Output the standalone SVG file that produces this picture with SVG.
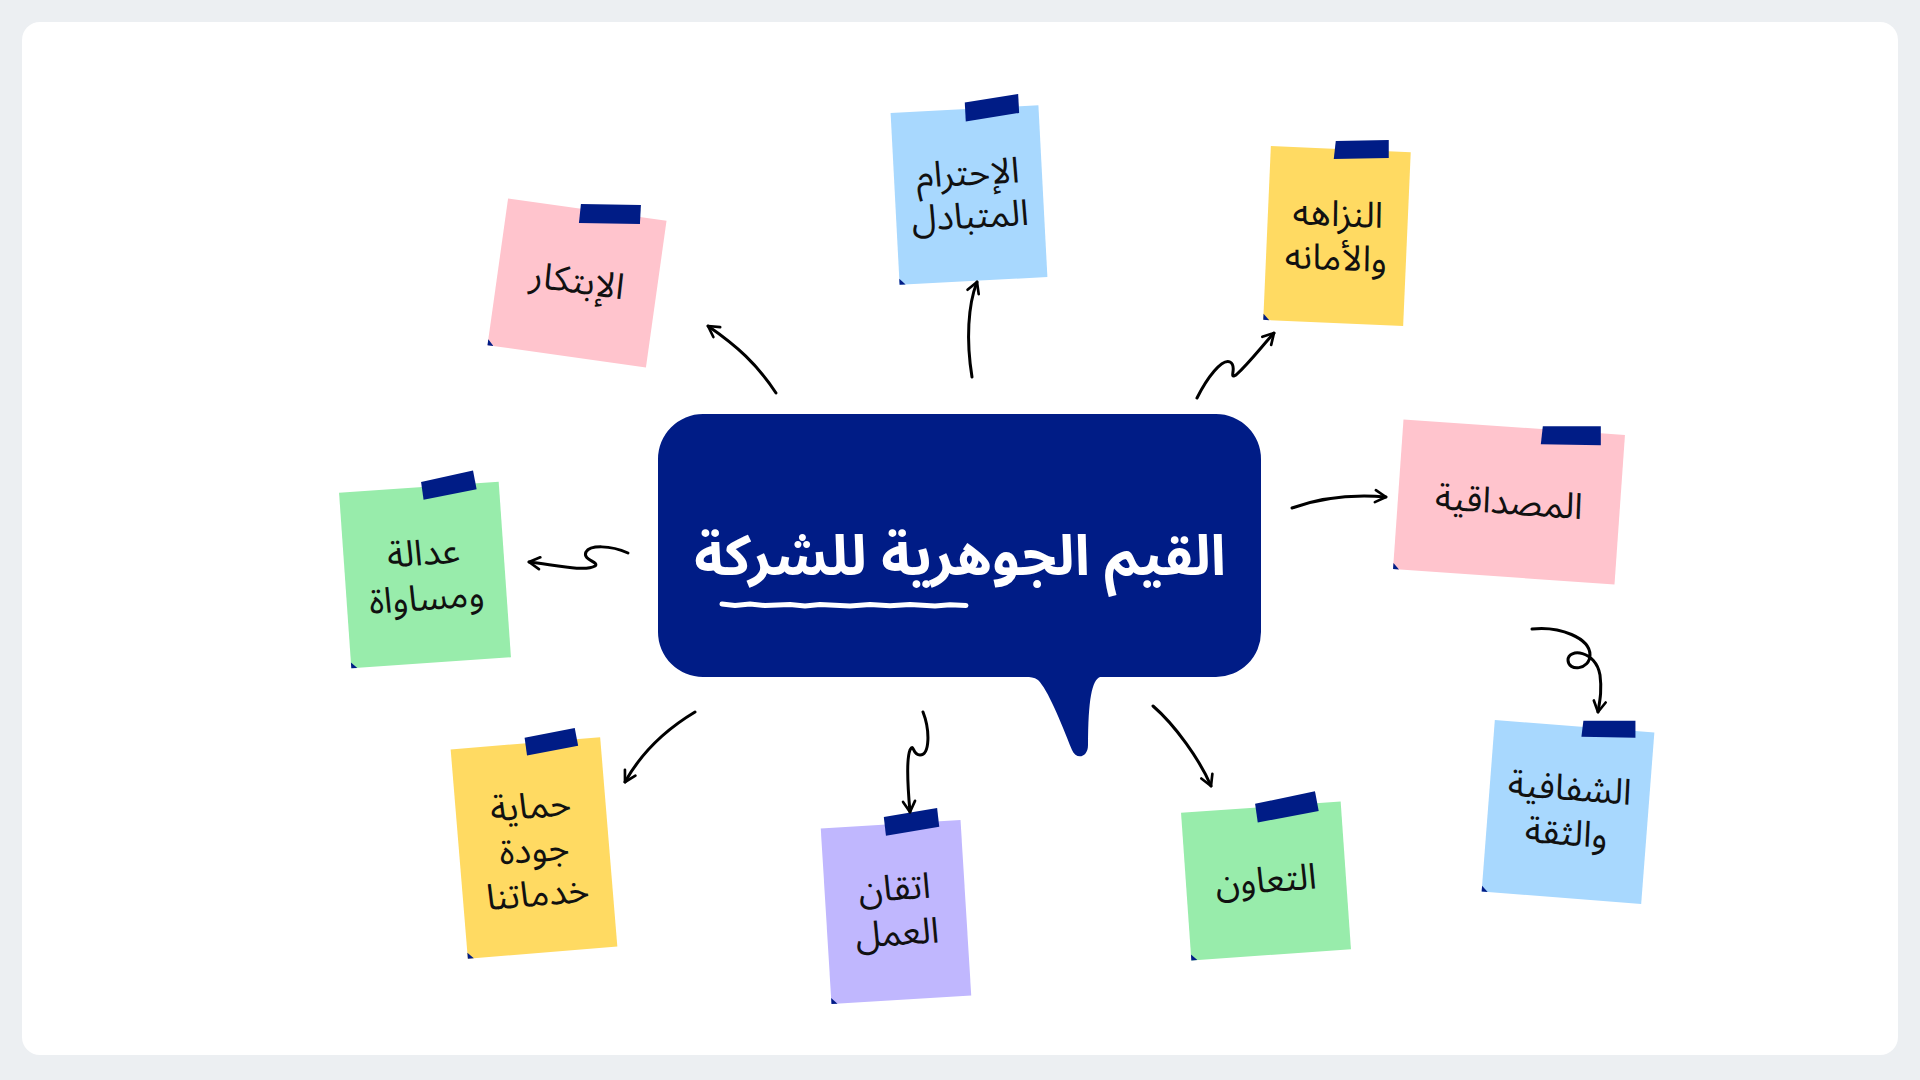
<svg xmlns="http://www.w3.org/2000/svg" width="1920" height="1080" viewBox="0 0 1920 1080">
<defs>
<style>
.note-text{font-family:"Noto Sans Arabic","Noto Sans","DejaVu Sans",sans-serif;font-size:36px;fill:#111;text-anchor:middle}
.title{font-family:"Noto Sans Arabic","Noto Sans","DejaVu Sans",sans-serif;font-size:56px;font-weight:bold;fill:#fff;text-anchor:middle}
.tape{fill:#001C86}
.fold{fill:#001C86}
.conn{fill:none;stroke:#000;stroke-width:3;stroke-linecap:round;stroke-linejoin:round}
.pink{fill:#FFC4CD}.blue{fill:#A8D8FE}.yellow{fill:#FFDA62}.green{fill:#98ECAB}.purple{fill:#C0B7FE}
</style>
<marker id="arrow" viewBox="0 0 12 12" refX="10" refY="6" markerWidth="16" markerHeight="16" markerUnits="userSpaceOnUse" orient="auto">
<path d="M2,1.5 L10,6 L2,10.5" fill="none" stroke="#000" stroke-width="2" stroke-linecap="round" stroke-linejoin="round"/>
</marker>
</defs>
<rect width="1920" height="1080" fill="#ECEFF2"/>
<rect x="22" y="22" width="1876" height="1033" rx="18" fill="#fff"/>

<g id="center">
<path d="M703,414 H1216 A45,45 0 0 1 1261,459 V632 A45,45 0 0 1 1216,677 H1100 C1092,680 1088,700 1088,745 C1088,758 1076,760 1072,750 C1060,720 1048,690 1038,680 C1034,677 1030,677 1026,677 H703 A45,45 0 0 1 658,632 V459 A45,45 0 0 1 703,414 Z" fill="#001C86"/>
<text class="title" x="960" y="575" direction="rtl">القيم الجوهرية للشركة</text>
<path d="M722,604 L735,605.5 L750,604 L765,605.5 L790,604.5 L805,606 L820,604.5 L850,606 L870,604.5 L890,605.8 L910,604.6 L935,606 L950,604.8 L966,605.5" fill="none" stroke="#fff" stroke-width="5" stroke-linecap="round" stroke-linejoin="round"/>
</g>

<g id="note-ibtikar" transform="translate(577,283) rotate(8)">
<rect x="-80" y="-74" width="160" height="148" class="pink"/>
<polygon points="-80,68 -80,74 -74,74" class="fold"/>
<polygon points="-6,-83 54,-82 53,-63 -8,-64" class="tape" transform="rotate(-8 24 -73)"/>
<text class="note-text" x="0" y="10">الإبتكار</text>
</g>

<g id="note-ihtiram" transform="translate(969,195) rotate(-3)">
<rect x="-74" y="-86" width="148" height="172" class="blue"/>
<polygon points="-74,80 -74,86 -68,86" class="fold"/>
<polygon points="1,-94 55,-97 54,-78 0,-75" class="tape" transform="rotate(-3 28 -86)"/>
<text class="note-text" x="0" y="-10">الإحترام</text>
<text class="note-text" x="0" y="33">المتبادل</text>
</g>

<g id="note-nazaha" transform="translate(1337,236) rotate(2.5)">
<rect x="-70" y="-87" width="140" height="174" class="yellow"/>
<polygon points="-5,-96 48,-97 48,-79 -7,-78" class="tape" transform="rotate(-2.5 21 -87)"/>
<polygon points="-70,81 -70,87 -64,87" class="fold"/>
<text class="note-text" x="0" y="-10">النزاهه</text>
<text class="note-text" x="0" y="34">والأمانه</text>
</g>

<g id="note-masdaqiya" transform="translate(1509,502) rotate(4)">
<rect x="-111" y="-75" width="222" height="150" class="pink"/>
<polygon points="-111,69 -111,75 -105,75" class="fold"/>
<polygon points="29,-80 87,-80 87,-61 27,-62" class="tape" transform="rotate(-4 57 -71)"/>
<text class="note-text" x="0" y="12">المصداقية</text>
</g>

<g id="note-shafafiya" transform="translate(1568,812) rotate(4.4)">
<rect x="-80" y="-86" width="160" height="172" class="blue"/>
<polygon points="-80,80 -80,86 -74,86" class="fold"/>
<polygon points="9,-94 61,-94 61,-77 7,-78" class="tape" transform="rotate(-4.4 34 -85)"/>
<text class="note-text" x="0" y="-12">الشفافية</text>
<text class="note-text" x="0" y="33">والثقة</text>
</g>

<g id="note-taawun" transform="translate(1266,881) rotate(-4)">
<rect x="-80" y="-74" width="160" height="148" class="green"/>
<polygon points="-80,68 -80,74 -74,74" class="fold"/>
<polygon points="-5,-80 56,-84 57,-64 -5,-61" class="tape" transform="rotate(-4 26 -72)"/>
<text class="note-text" x="0" y="11">التعاون</text>
</g>

<g id="note-itqan" transform="translate(896,912) rotate(-3.5)">
<rect x="-70" y="-88" width="140" height="176" class="purple"/>
<polygon points="-70,82 -70,88 -64,88" class="fold"/>
<polygon points="-6,-97 48,-100 48,-81 -6,-78" class="tape" transform="rotate(-3 21 -89)"/>
<text class="note-text" x="0" y="-12">اتقان</text>
<text class="note-text" x="0" y="33">العمل</text>
</g>

<g id="note-himaya" transform="translate(534,848) rotate(-4.7)">
<rect x="-75" y="-105" width="150" height="210" class="yellow"/>
<polygon points="-75,99 -75,105 -69,105" class="fold"/>
<polygon points="0,-112 51,-115 52,-97 0,-94" class="tape" transform="rotate(-3 26 -105)"/>
<text class="note-text" x="0" y="-30">حماية</text>
<text class="note-text" x="0" y="14">جودة</text>
<text class="note-text" x="0" y="58">خدماتنا</text>
</g>

<g id="note-adala" transform="translate(425,575) rotate(-4)">
<rect x="-80" y="-88" width="160" height="176" class="green"/>
<polygon points="-80,82 -80,88 -74,88" class="fold"/>
<polygon points="3,-95 56,-99 57,-80 3,-77" class="tape" transform="rotate(-4 30 -88)"/>
<text class="note-text" x="0" y="-10">عدالة</text>
<text class="note-text" x="0" y="35">ومساواة</text>
</g>

<g id="connectors">
<path class="conn" marker-end="url(#arrow)" d="M776,393 C757,364 737,346 708,326"/>
<path class="conn" marker-end="url(#arrow)" d="M972,377 C966,340 968,305 977,282"/>
<path class="conn" marker-end="url(#arrow)" d="M1197,398 C1207,378 1222,358 1230,362 C1238,366 1228,380 1236,375 C1250,362 1262,346 1274,333"/>
<path class="conn" marker-end="url(#arrow)" d="M1292,508 C1320,498 1350,494 1386,497"/>
<path class="conn" marker-end="url(#arrow)" d="M1532,629 C1560,626 1590,638 1590,655 C1590,670 1568,672 1568,660 C1568,648 1596,650 1600,675 C1602,690 1600,700 1598,712"/>
<path class="conn" marker-end="url(#arrow)" d="M1153,706 C1175,725 1200,760 1211,786"/>
<path class="conn" marker-end="url(#arrow)" d="M923,712 C930,730 930,755 920,755 C912,755 914,742 910,750 C906,760 908,790 910,812"/>
<path class="conn" marker-end="url(#arrow)" d="M695,712 C665,730 640,755 625,782"/>
<path class="conn" marker-end="url(#arrow)" d="M628,553 C610,545 590,545 586,552 C582,560 600,562 595,566 C585,572 555,565 529,562"/>
</g>
</svg>
